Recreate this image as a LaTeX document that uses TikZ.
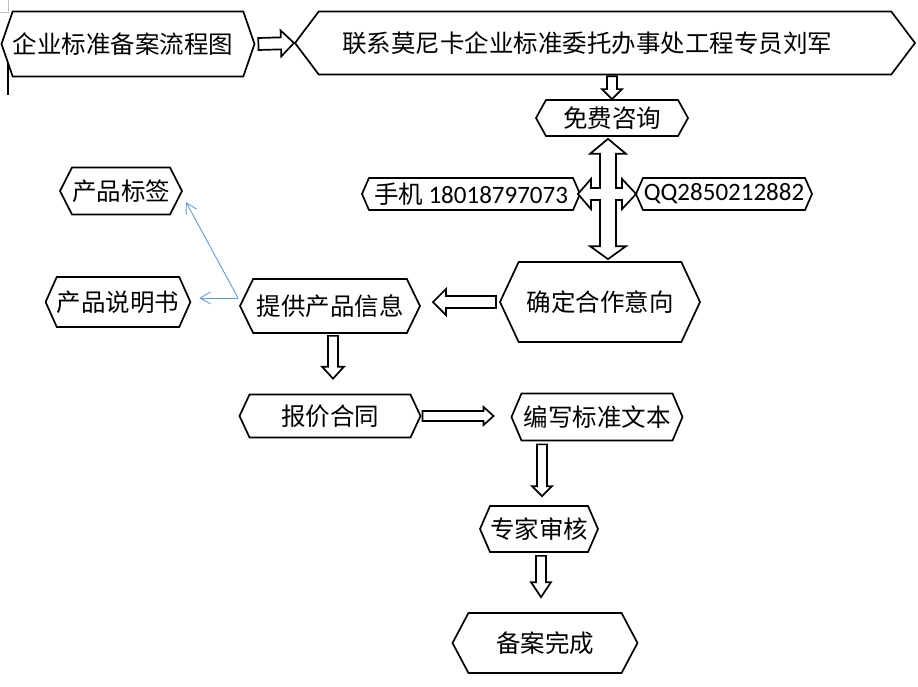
\documentclass[tikz,border=0pt]{standalone}
\usepackage{fontspec}
\usepackage{xcolor}
\usetikzlibrary{arrows.meta,shapes.symbols,calc}
\newfontfamily\cjk{Noto Sans CJK SC}
\newfontfamily\numfont{Carlito}
\definecolor{linkblue}{RGB}{100,155,210}

% block arrow: from, to, shaft half width, head half width, head length
\newcommand{\hollowarrow}[5]{%
  \path #1 coordinate (ha-s) #2 coordinate (ha-e);
  \coordinate (ha-h) at ($(ha-e)!#5!(ha-s)$);
  \draw[hollow] ($(ha-s)!#3!90:(ha-e)$) -- ($(ha-h)!#3!90:(ha-e)$) -- ($(ha-h)!#4!90:(ha-e)$)
    -- (ha-e) -- ($(ha-h)!#4!-90:(ha-e)$) -- ($(ha-h)!#3!-90:(ha-e)$) -- ($(ha-s)!#3!-90:(ha-e)$) -- cycle;
}

\begin{document}
\begin{tikzpicture}[
    x=1pt, y=-1pt,
    hexbox/.style={draw, line width=1.7pt, fill=white, shape=signal, signal to=west and east,
      signal pointer angle=130, inner sep=0pt, font=\cjk\fontsize{24.5}{27}\selectfont},
    hollow/.style={draw, line width=1.7pt, fill=white, line join=miter},
    linkarrow/.style={draw=linkblue, line width=0.9pt, -{Straight Barb[angle=60:12pt]}}
]
\useasboundingbox (0,0) rectangle (918,687);

% Header
\node[hexbox, minimum width=253pt, minimum height=65pt, signal pointer angle=142] (title) at (128,44) {企业标准备案流程图\hspace*{10pt}};
\node[hexbox, minimum width=620pt, minimum height=63pt, signal pointer angle=106] (contact) at (605,43) {联系莫尼卡企业标准委托办事处工程专员刘军\hspace*{36pt}};

% Consulting
\node[hexbox, minimum width=152pt, minimum height=36pt, signal pointer angle=122] (consult) at (612,118) {免费咨询};
\node[hexbox, minimum width=218pt, minimum height=32pt, signal pointer angle=133] (phone) at (471,194) {手机 {\numfont\fontsize{25}{28}\selectfont 18018797073}};
\node[hexbox, minimum width=176pt, minimum height=32pt, signal pointer angle=133, font=\numfont\fontsize{25}{28}\selectfont] (qq) at (724,194) {QQ2850212882};
\node[hexbox, minimum width=200pt, minimum height=80pt] (intent) at (600,302) {确定合作意向};

% Product information
\node[hexbox, minimum width=180pt, minimum height=54pt, signal pointer angle=128] (provide) at (330,306) {提供产品信息};
\node[hexbox, minimum width=117pt, minimum height=47pt, signal pointer angle=126] (label) at (121,191) {产品标签};
\node[hexbox, minimum width=133pt, minimum height=50pt, signal pointer angle=132] (manual) at (118,302) {产品说明书};

% Contract and standard
\node[hexbox, minimum width=181pt, minimum height=43pt] (quote) at (330,416) {报价合同};
\node[hexbox, minimum width=171pt, minimum height=47pt, signal pointer angle=134] (write) at (597,417) {编写标准文本};
\node[hexbox, minimum width=112pt, minimum height=46pt, signal pointer angle=133] (review) at (539,529) {专家审核};
\node[hexbox, minimum width=185pt, minimum height=60pt, signal pointer angle=124] (finish) at (545,643) {备案完成};

% Connections
\hollowarrow{($(title.east)+(3,0)$)}{(contact.west)}{6pt}{13pt}{13pt}
\hollowarrow{($(consult.north |- contact.south)+(0,1)$)}{(consult.north)}{5pt}{10pt}{10pt}

% four way arrow
\coordinate (hub) at ($(consult.south |- phone.east)+(-4,0)$);
\coordinate (ttip) at ($(hub |- consult.south)+(0,2)$);
\coordinate (btip) at ($(hub |- intent.north)+(0,-2)$);
\coordinate (ltip) at ($(phone.east)+(-3,0)$);
\coordinate (rtip) at ($(qq.west)+(1,0)$);
\draw[hollow] (ttip) -- ($(ttip)+(18,15)$) -- ($(ttip)+(8,15)$) -- ($(hub)+(8,-6)$)
  -- ($(rtip)+(-14,-6)$) -- ($(rtip)+(-14,-15)$) -- (rtip) -- ($(rtip)+(-14,15)$) -- ($(rtip)+(-14,6)$)
  -- ($(hub)+(8,6)$) -- ($(btip)+(8,-13)$) -- ($(btip)+(18,-13)$) -- (btip) -- ($(btip)+(-18,-13)$)
  -- ($(btip)+(-8,-13)$) -- ($(hub)+(-8,6)$) -- ($(ltip)+(13,6)$) -- ($(ltip)+(13,15)$) -- (ltip)
  -- ($(ltip)+(13,-15)$) -- ($(ltip)+(13,-6)$) -- ($(hub)+(-8,-6)$) -- ($(ttip)+(-8,15)$)
  -- ($(ttip)+(-18,15)$) -- cycle;

\hollowarrow{($(intent.west)+(-3,0)$)}{($(intent.west -| provide.east)+(12,0)$)}{6pt}{13pt}{13pt}
\hollowarrow{($(provide.south)+(3,2)$)}{($(provide.south |- quote.north)+(3,-15)$)}{5pt}{11pt}{12pt}
\hollowarrow{($(quote.east)+(1,0)$)}{($(quote.east -| write.west)+(-17,0)$)}{5pt}{9pt}{10pt}
\hollowarrow{($(review.north |- write.south)+(3,3)$)}{($(review.north)+(3,-9)$)}{5pt}{10pt}{10pt}
\hollowarrow{($(review.south)+(2,3)$)}{($(review.south |- finish.north)+(2,-15)$)}{5pt}{10pt}{15pt}

\coordinate (fork) at ($(provide.west)+(-1,-8)$);
\draw[linkarrow] (fork) -- ($(label.east)+(3,11)$);
\draw[linkarrow] (fork) -- ($(fork -| manual.east)+(8,0)$);

% marks at the top left corner
\draw[gray!50, line width=0.6pt] (0,12) -| (8,0);
\draw[line width=1.2pt] (8,63) -- (8,95);

\end{tikzpicture}
\end{document}
